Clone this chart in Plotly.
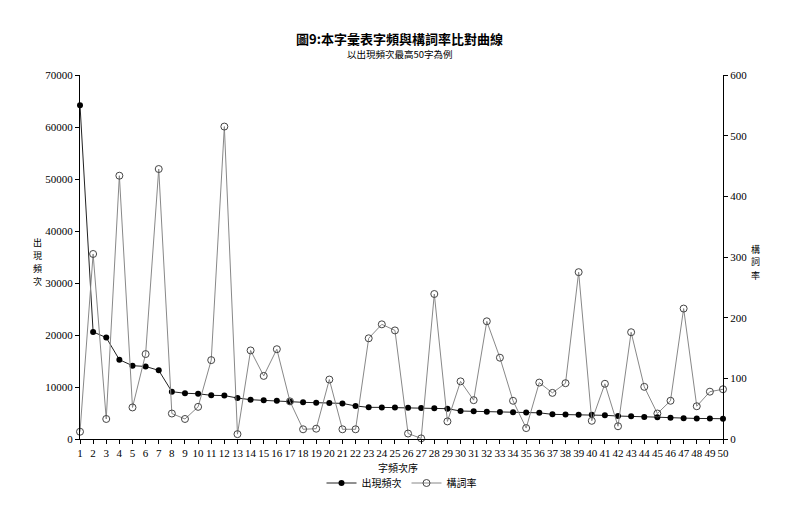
import plotly.graph_objects as go

ranks = list(range(1, 51))
freq = [64200, 20600, 19500, 15250, 14100, 13950, 13200, 9100, 8800, 8700,
        8400, 8350, 7880, 7560, 7430, 7370, 7180, 7050, 6980, 6920,
        6850, 6350, 6090, 6080, 6050, 6000, 5980, 5900, 5830, 5380,
        5320, 5250, 5190, 5130, 5080, 5030, 4740, 4720, 4680, 4650,
        4550, 4420, 4380, 4230, 4200, 4100, 3970, 3950, 3930, 3900]
rate = [12, 305, 33, 434, 52, 140, 445, 42, 33, 53,
        130, 515, 8, 146, 104, 148, 62, 16, 17, 98,
        16, 16, 166, 189, 179, 9, 1, 239, 29, 95,
        64, 194, 134, 63, 18, 93, 76, 92, 275, 30,
        91, 21, 176, 86, 42, 63, 215, 54, 78, 82]

title = "圖9:本字彙表字頻與構詞率比對曲線"
subtitle = "以出現頻次最高50字為例"
name_freq = "出現頻次"
name_rate = "構詞率"
x_title = "字頻次序"

cjk = "Noto Sans CJK TC, Noto Sans CJK SC, sans-serif"
num = "Liberation Serif, DejaVu Serif, serif"

W, H = 800, 527
OFF = 8  # page body margin in the browser
# target plot-area edges in screenshot pixels
X0, X1, Y0, Y1 = 80, 723, 75, 439
ML, MT = X0 - OFF, Y0 - OFF
MR = W - (X1 - OFF)
MB = H - (Y1 - OFF)
plot_h = Y1 - Y0
plot_w = X1 - X0

def py(ypix):
    return (Y1 - ypix) / plot_h

def px(xpix):
    return (xpix - X0) / plot_w

fig = go.Figure()
fig.add_trace(go.Scatter(
    x=ranks, y=freq, name=name_freq, mode="lines+markers",
    line=dict(color="#222", width=1),
    marker=dict(symbol="circle", size=6, color="black"),
    cliponaxis=False, yaxis="y"))
fig.add_trace(go.Scatter(
    x=ranks, y=rate, name=name_rate, mode="lines+markers",
    line=dict(color="#888", width=1),
    marker=dict(symbol="circle-open", size=7, color="#444", line=dict(width=1)),
    cliponaxis=False, yaxis="y2"))

axis_common = dict(showline=True, linecolor="black", linewidth=1,
                   ticks="outside", ticklen=4, tickcolor="black",
                   showgrid=False, zeroline=False, automargin=False,
                   tickfont=dict(family=num, size=11, color="black"))

annotations = [
    dict(text="<b>" + title + "</b>", x=px(399), y=py(39), yanchor="middle",
         font=dict(family=cjk, size=13, color="black")),
    dict(text=subtitle, x=px(400), y=py(54), yanchor="middle",
         font=dict(family=cjk, size=9.5, color="black")),
    dict(text=x_title, x=px(398), y=py(467), yanchor="middle",
         font=dict(family=cjk, size=10, color="black")),
]
for i, ch in enumerate(name_freq):
    annotations.append(dict(text=ch, x=px(32), y=py(242 + i * 13), yanchor="middle",
                            font=dict(family=cjk, size=9, color="black")))
for i, ch in enumerate(name_rate):
    annotations.append(dict(text=ch, x=px(761), y=py(249 + i * 13), yanchor="middle",
                            font=dict(family=cjk, size=9, color="black")))
for a in annotations:
    a.update(xref="paper", yref="paper", showarrow=False, borderpad=0)

fig.update_layout(
    width=W, height=H,
    margin=dict(l=ML, r=MR, t=MT, b=MB, autoexpand=False),
    paper_bgcolor="white", plot_bgcolor="white",
    showlegend=True,
    legend=dict(orientation="h", x=0.5, xanchor="center", y=py(483), yanchor="middle",
                font=dict(family=cjk, size=10, color="black")),
    xaxis=dict(range=[1, 50], tickmode="array", tickvals=ranks,
               ticktext=[str(r) for r in ranks], tickangle=0, **axis_common),
    yaxis=dict(range=[0, 70000], tickmode="array",
               tickvals=[0, 10000, 20000, 30000, 40000, 50000, 60000, 70000],
               ticktext=["0", "10000", "20000", "30000", "40000", "50000", "60000", "70000"],
               **axis_common),
    yaxis2=dict(range=[0, 600], tickmode="array",
                tickvals=[0, 100, 200, 300, 400, 500, 600],
                overlaying="y", side="right", **axis_common),
    annotations=annotations,
)

fig.write_html("out.html")
